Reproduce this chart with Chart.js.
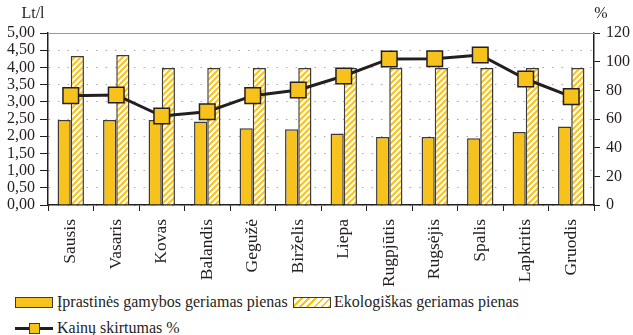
<!DOCTYPE html>
<html>
<head>
<meta charset="utf-8">
<script src="https://cdn.jsdelivr.net/npm/chart.js@4/dist/chart.umd.min.js"></script>
<style>
  html, body { margin: 0; padding: 0; background: #fff; }
  body { width: 633px; height: 335px; position: relative; overflow: hidden;
         font-family: "Times New Roman", Times, "Liberation Serif", "DejaVu Serif", serif; color: #231f20; }
  #wrap { position: absolute; left: 0; top: 0; width: 633px; height: 290px; }
  .leg { position: absolute; font-size: 16px; line-height: 18px; white-space: nowrap; }
  .sw { position: absolute; box-sizing: border-box; border: 1.5px solid #3a3a3a; }
</style>
</head>
<body>
<div id="wrap"><canvas id="c" width="633" height="290"></canvas></div>

<div class="sw" style="left:15px;top:297px;width:38px;height:11px;background:#F8C21C;"></div>
<div class="leg" style="left:57px;top:293px;">Įprastinės gamybos geriamas pienas</div>
<div class="sw" style="left:293px;top:297px;width:38px;height:11px;
     background:repeating-linear-gradient(-45deg,#F8C21C 0 2px,#fff 2px 5px);"></div>
<div class="leg" style="left:334px;top:293px;">Ekologiškas geriamas pienas</div>

<div style="position:absolute;left:15px;top:327px;width:38px;height:3px;background:#231f20;"></div>
<div class="sw" style="left:29px;top:323px;width:11px;height:11px;background:#F8C21C;"></div>
<div class="leg" style="left:57px;top:319px;">Kainų skirtumas %</div>

<script>
// Months
const months = ['Sausis', 'Vasaris', 'Kovas', 'Balandis', 'Gegužė', 'Birželis',
                'Liepa', 'Rugpjūtis', 'Rugsėjis', 'Spalis', 'Lapkritis', 'Gruodis'];

// Price of conventional drinking milk, Lt/l
const conventional = [2.47, 2.47, 2.47, 2.43, 2.23, 2.20, 2.08, 1.98, 1.98, 1.94, 2.12, 2.28];

// Price of organic drinking milk, Lt/l
const organic = [4.33, 4.36, 3.98, 3.98, 3.98, 3.98, 3.98, 3.98, 3.98, 3.98, 3.98, 3.98];

// Price difference, %
const priceDiff = [76.3, 76.8, 62.1, 65.1, 76.3, 80.2, 90.0, 101.9, 102.0, 104.7, 87.9, 75.6];

const YELLOW = '#F8C21C';
const EDGE = '#3a3a3a';
const INK = '#231f20';
const SERIF = '"Times New Roman", Times, "Liberation Serif", "DejaVu Serif", serif';
const FONT = { family: SERIF, size: 16 };
const XFONT = { family: SERIF, size: 17.5 };

// diagonal hatch fill for the organic bars
function hatch() {
  const s = 6;
  const p = document.createElement('canvas');
  p.width = s; p.height = s;
  const g = p.getContext('2d');
  g.fillStyle = '#fff';
  g.fillRect(0, 0, s, s);
  g.strokeStyle = YELLOW;
  g.lineWidth = 2;
  g.beginPath();
  g.moveTo(-1, s + 1); g.lineTo(s + 1, -1);
  g.moveTo(-1, 1); g.lineTo(1, -1);
  g.moveTo(s - 1, s + 1); g.lineTo(s + 1, s - 1);
  g.stroke();
  return g.createPattern(p, 'repeat');
}

const ctx = document.getElementById('c').getContext('2d');

// axis unit captions and solid top frame line
const decor = {
  id: 'decor',
  afterDraw(chart) {
    const c = chart.ctx;
    const a = chart.chartArea;
    c.save();
    c.strokeStyle = '#9a9a9a';
    c.lineWidth = 1;
    c.beginPath();
    c.moveTo(a.left, a.top + 0.5);
    c.lineTo(a.right, a.top + 0.5);
    c.stroke();
    c.fillStyle = INK;
    c.font = '16px ' + SERIF;
    c.textBaseline = 'middle';
    c.textAlign = 'center';
    c.fillText('Lt/l', 33, 14);
    c.fillText('%', 601, 14);
    c.restore();
  }
};

new Chart(ctx, {
  data: {
    labels: months,
    datasets: [
      {
        type: 'line',
        label: 'Kainų skirtumas %',
        data: priceDiff,
        yAxisID: 'yPct',
        borderColor: INK,
        borderWidth: 3,
        pointStyle: 'rect',
        pointRadius: 11,
        pointBackgroundColor: YELLOW,
        pointBorderColor: INK,
        pointBorderWidth: 1.5,
        tension: 0,
        order: 1
      },
      {
        type: 'bar',
        label: 'Įprastinės gamybos geriamas pienas',
        data: conventional,
        yAxisID: 'yLt',
        backgroundColor: YELLOW,
        borderColor: EDGE,
        borderWidth: 1.5,
        categoryPercentage: 0.58,
        barPercentage: 1.0,
        order: 2
      },
      {
        type: 'bar',
        label: 'Ekologiškas geriamas pienas',
        data: organic,
        yAxisID: 'yLt',
        backgroundColor: hatch(),
        borderColor: EDGE,
        borderWidth: 1.5,
        categoryPercentage: 0.58,
        barPercentage: 1.0,
        order: 2
      }
    ]
  },
  options: {
    responsive: false,
    animation: false,
    layout: { padding: { top: 33, bottom: 2, left: 0, right: 0 } },
    plugins: { legend: { display: false }, tooltip: { enabled: false } },
    scales: {
      x: {
        grid: { display: true, offset: true, drawOnChartArea: false, drawTicks: true,
                tickLength: 6, color: INK, lineWidth: 1 },
        border: { display: true, color: INK, width: 1.5 },
        ticks: { color: INK, font: XFONT, minRotation: 90, maxRotation: 90, padding: 8,
                 autoSkip: false },
        afterFit(s) { s.height = 83; }
      },
      yLt: {
        position: 'left',
        min: 0, max: 5,
        ticks: { stepSize: 0.5, autoSkip: false, color: INK, font: FONT, padding: 5,
                 callback: v => v.toFixed(2).replace('.', ',') },
        grid: { color: '#a8a8a8', lineWidth: 1, drawTicks: true, tickLength: 8,
                tickColor: INK },
        border: { display: true, color: INK, width: 1.5, dash: [1.5, 8] },
        afterFit(s) { s.width = 48; }
      },
      yPct: {
        position: 'right',
        min: 0, max: 120,
        ticks: { stepSize: 20, autoSkip: false, color: INK, font: FONT, padding: 6 },
        grid: { drawOnChartArea: false, drawTicks: true, tickLength: 6, color: INK },
        border: { display: true, color: INK, width: 1.5 },
        afterFit(s) { s.width = 39; }
      }
    }
  },
  plugins: [decor]
});
</script>
</body>
</html>
